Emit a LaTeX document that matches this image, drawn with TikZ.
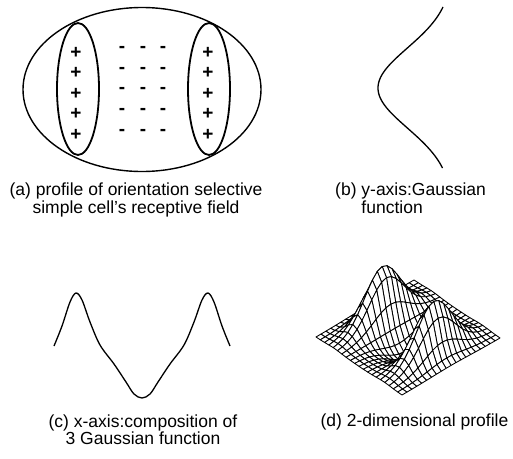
\documentclass[tikz,border=0pt]{standalone}
\usepackage{fontspec}
\setmainfont{Liberation Sans}
\usepackage{tikz}

% height of the 2-d profile: gaussian along y, three gaussians along x
\pgfmathdeclarefunction{prof}{2}{%
  \pgfmathparse{55*exp(-(#2)^2/0.25)*(exp(-((#1)-0.58)^2/0.045)+exp(-((#1)+0.58)^2/0.045)-0.35*exp(-(#1)^2/0.12))}%
}

\begin{document}
\begin{tikzpicture}[
    x=1pt,
    y=-1pt,
    field/.style={draw=black, line width=1.4pt},
    lobe/.style={draw=black, line width=1.8pt},
    sign/.style={font=\fontsize{19}{19}\selectfont\bfseries, inner sep=0pt},
    curve/.style={draw=black, line width=1.3pt, line join=round},
    meshcell/.style={draw=black, fill=white, line width=0.85pt, line join=round},
    caption/.style={font=\fontsize{17.5}{16}\selectfont, inner sep=0pt}
  ]
    \useasboundingbox (0,0) rectangle (513,458);

    % (a) receptive field
    \draw[field] (142,89.5) ellipse [x radius=119, y radius=82];
    \draw[lobe] (78,89) ellipse [x radius=21, y radius=66];
    \draw[lobe] (209,89) ellipse [x radius=21, y radius=66];

    \foreach \y [count=\k] in {53,73,94,114,135} {
      \node[sign] (plA\k) at (76,\y) {+};
      \node[sign] (plB\k) at (208,\y) {+};
    }
    \foreach \y [count=\k] in {49,70,90,111,132} {
      \foreach \x [count=\m] in {122,143,163} {
        \node[sign] (mi\k\m) at (\x,\y) {-};
      }
    }

    % (b) gaussian along y
    \draw[curve] plot[domain=7:168, samples=70, variable=\t]
      ({452.6-74.6*exp(-(\t-88)^2/3200)}, \t);

    % (c) composition along x
    \draw[curve] plot[smooth, tension=0.55] coordinates {
      (54,346) (62,326) (70,302) (76,293) (82,300) (90,322) (100,345)
      (114,364) (126,382) (134,394) (142,398) (150,394) (158,382)
      (170,364) (184,345)
      (194,322) (202,300) (208,293) (214,302) (222,326) (230,346)};

    % (d) surface, back to front
    \foreach \i in {0,...,19} {
      \foreach \j in {19,...,0} {
        \pgfmathsetmacro\xa{-1+0.1*\i}
        \pgfmathsetmacro\xb{\xa+0.1}
        \pgfmathsetmacro\ya{-1+0.1*\j}
        \pgfmathsetmacro\yb{\ya+0.1}
        \pgfmathsetmacro\zaa{prof(\xa,\ya)}
        \pgfmathsetmacro\zba{prof(\xb,\ya)}
        \pgfmathsetmacro\zbb{prof(\xb,\yb)}
        \pgfmathsetmacro\zab{prof(\xa,\yb)}
        \filldraw[meshcell]
          ({408+43*\xa+49*\ya},{337.5+29*\xa-28.5*\ya-\zaa}) --
          ({408+43*\xb+49*\ya},{337.5+29*\xb-28.5*\ya-\zba}) --
          ({408+43*\xb+49*\yb},{337.5+29*\xb-28.5*\yb-\zbb}) --
          ({408+43*\xa+49*\yb},{337.5+29*\xa-28.5*\yb-\zab}) -- cycle;
      }
    }

    \node[caption, align=center] (capa) at (136,200)
      {(a) profile of orientation selective\\simple cell's receptive field};
    \node[caption, align=left, anchor=west] (capb) at (335,200)
      {(b) y-axis:Gaussian\\\phantom{(b)} function};
    \node[caption, align=center] (capc) at (143,430)
      {(c) x-axis:composition of\\3 Gaussian function};
    \node[caption] (capd) at (414.5,422) {(d) 2-dimensional profile};
  \end{tikzpicture}
\end{document}
